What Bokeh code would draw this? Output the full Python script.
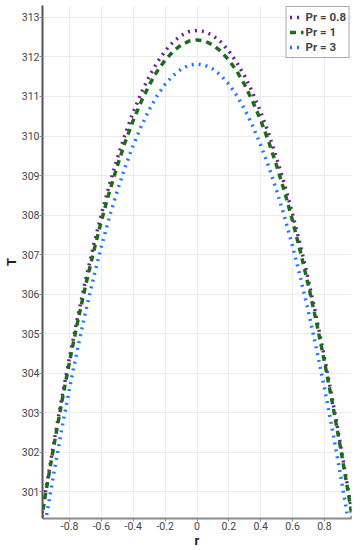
from bokeh.plotting import figure
from bokeh.models import FixedTicker, Range1d, Legend, LegendItem
from bokeh.embed import file_html
from bokeh.resources import INLINE

# radial coordinate
r = [-1.00, -0.95, -0.90, -0.85, -0.80, -0.75, -0.70, -0.65, -0.60, -0.55, -0.50,
     -0.45, -0.40, -0.35, -0.30, -0.25, -0.20, -0.15, -0.10, -0.05, 0.00,
     0.05, 0.10, 0.15, 0.20, 0.25, 0.30, 0.35, 0.40, 0.45, 0.50,
     0.55, 0.60, 0.65, 0.70, 0.75, 0.80, 0.85, 0.90, 0.95, 1.00]

T_pr08 = [299.77, 301.03, 302.22, 303.35, 304.41, 305.41, 306.35, 307.22, 308.03, 308.77, 309.44,
          310.06, 310.61, 311.09, 311.51, 311.86, 312.15, 312.38, 312.54, 312.64, 312.67,
          312.64, 312.54, 312.38, 312.15, 311.86, 311.51, 311.09, 310.61, 310.06, 309.44,
          308.77, 308.03, 307.22, 306.35, 305.41, 304.41, 303.35, 302.22, 301.03, 299.77]

T_pr1 = [299.73, 300.97, 302.14, 303.25, 304.30, 305.29, 306.21, 307.06, 307.86, 308.59, 309.25,
         309.86, 310.40, 310.87, 311.29, 311.64, 311.92, 312.14, 312.30, 312.40, 312.43,
         312.40, 312.30, 312.14, 311.92, 311.64, 311.29, 310.87, 310.40, 309.86, 309.25,
         308.59, 307.86, 307.06, 306.21, 305.29, 304.30, 303.25, 302.14, 300.97, 299.73]

T_pr3 = [299.02, 300.27, 301.45, 302.57, 303.63, 304.62, 305.55, 306.41, 307.21, 307.95, 308.62,
         309.23, 309.77, 310.25, 310.67, 311.02, 311.31, 311.53, 311.69, 311.79, 311.82,
         311.79, 311.69, 311.53, 311.31, 311.02, 310.67, 310.25, 309.77, 309.23, 308.62,
         307.95, 307.21, 306.41, 305.55, 304.62, 303.63, 302.57, 301.45, 300.27, 299.02]

series_labels = ["Pr = 0.8", "Pr = 1", "Pr = 3"]

x_ticks = [-0.8, -0.6, -0.4, -0.2, 0.0, 0.2, 0.4, 0.6, 0.8]
x_tick_labels = ["-0.8", "-0.6", "-0.4", "-0.2", "0", "0.2", "0.4", "0.6", "0.8"]
y_ticks = [301, 302, 303, 304, 305, 306, 307, 308, 309, 310, 311, 312, 313]

FONT = "Roboto"

p = figure(width=354, height=550, output_backend="svg", toolbar_location=None,
           x_range=Range1d(-0.97, 0.97), y_range=Range1d(300.33, 313.3),
           min_border_left=0, min_border_right=3, min_border_top=5, min_border_bottom=0)

p.outline_line_color = None
p.background_fill_color = "white"
p.border_fill_color = "white"

p.xgrid.grid_line_color = "#ececec"
p.ygrid.grid_line_color = "#ececec"
p.xgrid.ticker = FixedTicker(ticks=x_ticks)
p.ygrid.ticker = FixedTicker(ticks=y_ticks)

p.xaxis.ticker = FixedTicker(ticks=x_ticks)
p.yaxis.ticker = FixedTicker(ticks=y_ticks)
p.xaxis.major_label_overrides = {t: l for t, l in zip(x_ticks, x_tick_labels)}

for ax in (p.xaxis, p.yaxis):
    ax.axis_line_color = "#8a8a8a"
    ax.axis_line_width = 2
    ax.major_tick_line_color = "#8a8a8a"
    ax.major_tick_out = 3
    ax.major_tick_in = 0
    ax.minor_tick_line_color = None
    ax.major_label_text_font = FONT
    ax.major_label_text_font_size = "10.5px"
    ax.major_label_text_color = "#444444"
    ax.major_label_standoff = 0
    ax.axis_label_text_font = FONT
    ax.axis_label_text_font_style = "bold"
    ax.axis_label_text_font_size = "13px"
    ax.axis_label_text_color = "#222222"
    ax.axis_label_standoff = 0

p.yaxis.axis_line_color = "#555555"
p.xaxis.axis_label = "r"
p.yaxis.axis_label = "T"

l1 = p.line(r, T_pr08, line_color="#6a1f96", line_width=3.5, line_dash="2 5")
l2 = p.line(r, T_pr1, line_color="#1d6b1d", line_width=3.5, line_dash="6 5")
l3 = p.line(r, T_pr3, line_color="#1f78ff", line_width=3.5, line_dash="2 5")

legend = Legend(items=[LegendItem(label=series_labels[0], renderers=[l1]),
                       LegendItem(label=series_labels[1], renderers=[l2]),
                       LegendItem(label=series_labels[2], renderers=[l3])],
                location="top_right")
legend.border_line_color = "#555555"
legend.border_line_width = 1
legend.background_fill_alpha = 1
legend.label_text_font = FONT
legend.label_text_font_style = "bold"
legend.label_text_font_size = "11.5px"
legend.label_height = 12
legend.glyph_height = 12
legend.glyph_width = 14
legend.spacing = 1
legend.padding = 3
legend.margin = 1
legend.label_standoff = 2
p.add_layout(legend)

open("out.html", "w").write(file_html(p, INLINE))
